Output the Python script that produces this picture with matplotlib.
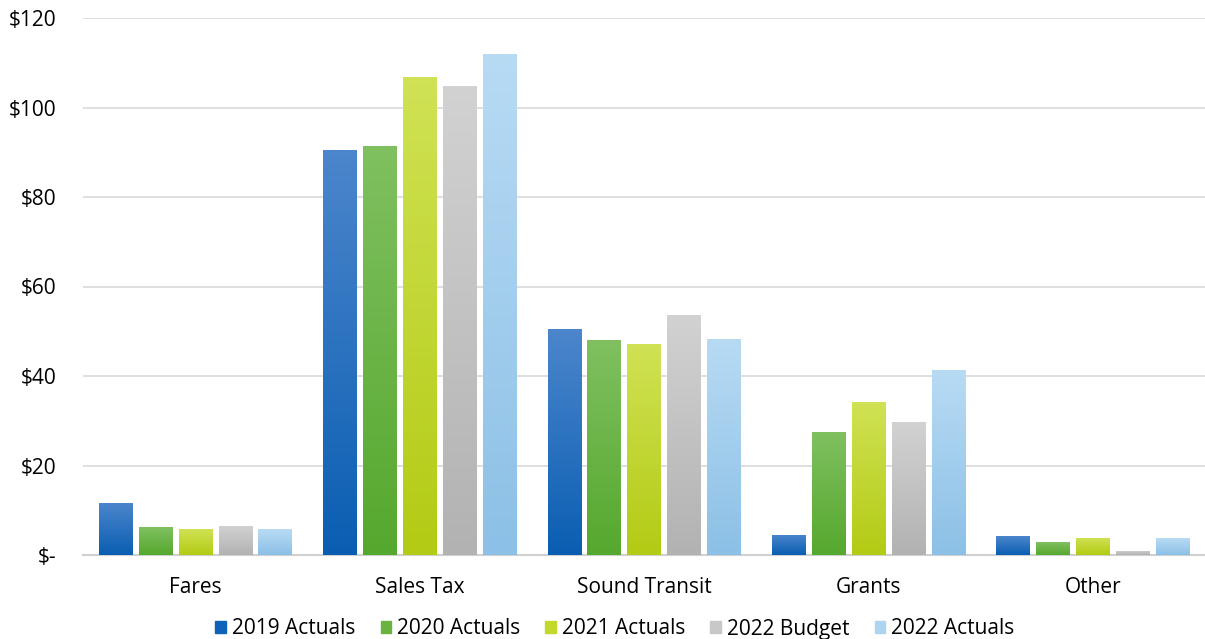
import matplotlib
matplotlib.use("Agg")
import matplotlib.pyplot as plt
import numpy as np
from matplotlib.colors import LinearSegmentedColormap
from matplotlib.patches import Patch

categories = ["Fares", "Sales Tax", "Sound Transit", "Grants", "Other"]
series_names = ["2019 Actuals", "2020 Actuals", "2021 Actuals", "2022 Budget", "2022 Actuals"]
v2019 = [11.7, 90.5, 50.4, 4.5, 4.2]
v2020 = [6.2, 91.5, 48.0, 27.5, 2.8]
v2021 = [5.7, 106.8, 47.2, 34.2, 3.9]
v2022b = [6.5, 104.8, 53.7, 29.7, 1.0]
v2022a = [5.7, 111.9, 48.2, 41.3, 3.7]
series_values = [v2019, v2020, v2021, v2022b, v2022a]
y_ticks = [0, 20, 40, 60, 80, 100, 120]
y_labels = ["$-", "$20", "$40", "$60", "$80", "$100", "$120"]

top_colors = ["#4C86CC", "#80C060", "#D0E255", "#D2D2D2", "#B8DBF4"]
bot_colors = ["#0A5EB2", "#55A82E", "#B3CB14", "#B2B2B2", "#8CC0E6"]
legend_colors = ["#0E62B8", "#6AB33E", "#C2D82A", "#C8C8C8", "#ADD5F2"]

plt.rcParams['font.family'] = ['Open Sans', 'DejaVu Sans']

fig = plt.figure(figsize=(12.05, 6.39), dpi=100)
ax = fig.add_axes([83/1205, 84/639, 1 - 83/1205, (555-18)/639])

x = np.arange(len(categories))
pitch = 0.178
bw = 0.148
grad = np.linspace(0, 1, 256).reshape(-1, 1)
for i, (vals, tc, bc) in enumerate(zip(series_values, top_colors, bot_colors)):
    offs = (i - 2) * pitch
    bars = ax.bar(x + offs, vals, width=bw, color=tc, zorder=3)
    cmap = LinearSegmentedColormap.from_list("g%d" % i, [bc, tc])
    for b in bars:
        bx, by = b.get_x(), b.get_y()
        w, h = b.get_width(), b.get_height()
        im = ax.imshow(grad, extent=[bx, bx + w, by, by + h], origin="lower",
                       aspect="auto", cmap=cmap, zorder=3.5)
        im.set_clip_path(b)

ax.set_xlim(-0.5, len(categories) - 0.5)
ax.set_ylim(0, 120)
ax.set_yticks(y_ticks)
ax.set_yticklabels(y_labels, fontsize=15)
ax.set_xticks(x)
ax.set_xticklabels(categories, fontsize=15)
ax.tick_params(axis='x', length=0, pad=16)
ax.tick_params(axis='y', length=0, pad=19)
ax.grid(axis='y', color='#D9D9D9', linewidth=1.2, zorder=0)
for s in ['top', 'right', 'left']:
    ax.spines[s].set_visible(False)
ax.spines['bottom'].set_color('#D0D0D0')
ax.spines['bottom'].set_linewidth(1.5)

handles = [Patch(color=c, label=n) for c, n in zip(legend_colors, series_names)]
fig.legend(handles=handles, loc='center', bbox_to_anchor=(615/1205, 1 - 629/639),
           ncol=5, frameon=False, fontsize=15, handlelength=0.5, handleheight=0.5,
           handletextpad=0.3, columnspacing=1.2)

fig.savefig("out.png", dpi=100)
